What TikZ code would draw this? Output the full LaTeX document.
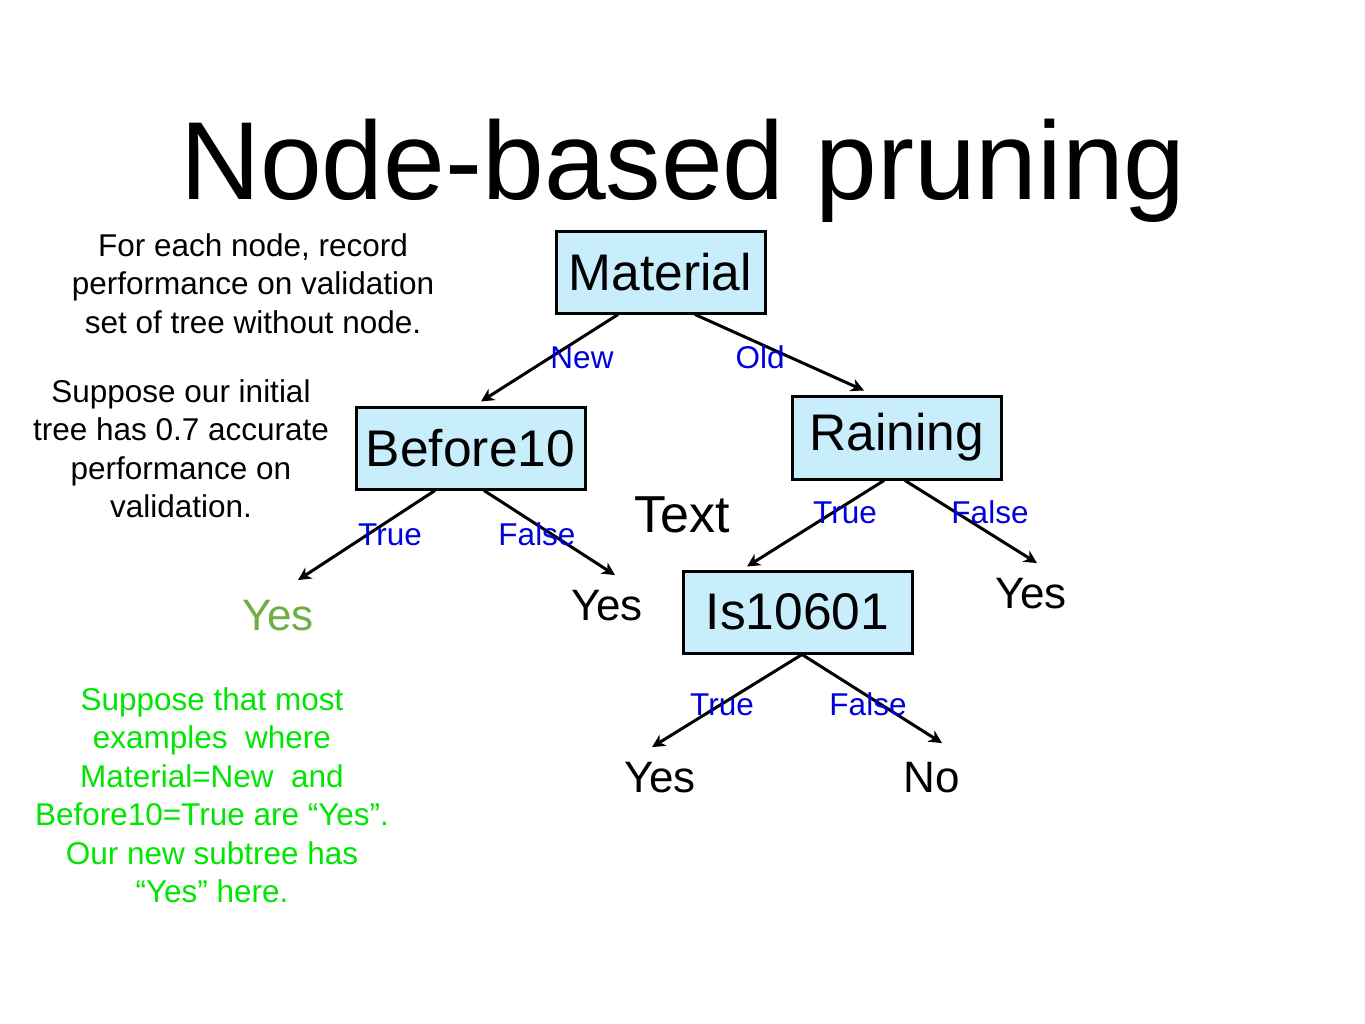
\documentclass[tikz,border=0pt]{standalone}
\usepackage{fontspec}
\setmainfont{Liberation Sans}
\usetikzlibrary{calc,arrows.meta}
\definecolor{boxfill}{RGB}{200,238,252}
\definecolor{lblblue}{RGB}{0,0,220}
\definecolor{leafgreen}{RGB}{112,173,71}
\definecolor{notegreen}{RGB}{0,230,0}
\tikzset{
  attr/.style={draw=black, fill=boxfill, line width=3pt, inner sep=0pt, font=\fontsize{51.5}{61}\selectfont},
  leaf/.style={anchor=base, inner sep=0pt, font=\fontsize{44}{53}\selectfont},
  edgelbl/.style={anchor=base, inner sep=0pt, text=lblblue, font=\fontsize{31.5}{38}\selectfont},
  note/.style={anchor=north, inner sep=0pt, align=center, font=\fontsize{31.5}{38.5}\selectfont},
  branch/.style={line width=3pt, -{Stealth[length=13pt,width=13pt,inset=4pt]}}
}
\begin{document}
\begin{tikzpicture}[x=1pt,y=-1pt]
\useasboundingbox[fill=white] (0,0) rectangle (1365,1024);
% title
\node[anchor=base, inner sep=0pt, font=\fontsize{111}{130}\selectfont] (title) at (683,200) {Node-based pruning};
% attribute boxes
\node[attr, minimum width=209pt, minimum height=81pt] (mat) at (660.5,272.5) {Material};
\node[attr, minimum width=229pt, minimum height=82pt] (b10) at (470.5,448) {Before10};
\node[attr, minimum width=209pt, minimum height=83pt] (rain) at (896.5,437.5) {Raining};
\node[attr, minimum width=229pt, minimum height=82pt] (is) at (797.5,612) {Is10601};
% leaves
\node[leaf, text=leafgreen] (yesg) at (278,630) {Yes};
\node[leaf] (yes1) at (607,620) {Yes};
\node[leaf] (yes2) at (1031,608) {Yes};
\node[leaf] (yes3) at (660,792) {Yes};
\node[leaf] (no) at (932,792) {No};
\node[anchor=base, inner sep=0pt, font=\fontsize{52}{62}\selectfont] (txt) at (682,532) {Text};
% branches
\draw[branch] ($(mat.south)+(-42.5,0)$) -- ($(b10.north)+(10.5,-4)$);
\draw[branch] ($(mat.south)+(34.5,0)$) -- ($(rain.north)+(-32.5,-4)$);
\draw[branch] ($(b10.south)+(-35.5,0)$) -- ($(yesg)+(20,-35)$);
\draw[branch] ($(b10.south)+(13.5,0)$) -- ($(yes1)+(8,-30)$);
\draw[branch] ($(rain.south)+(-12.5,0)$) -- ($(is.north)+(-50.5,-3)$);
\draw[branch] ($(rain.south)+(8.5,0)$) -- ($(yes2)+(6,-30)$);
\draw[branch] ($(is.south)+(4.5,0)$) -- ($(yes3)+(-8,-30)$);
\draw[branch] ($(is.south)+(4.5,0)$) -- ($(no)+(10,-34)$);
% edge labels
\node[edgelbl] (lnew) at (582,368) {New};
\node[edgelbl] (lold) at (760,368) {Old};
\node[edgelbl] (lbt) at (390,545) {True};
\node[edgelbl] (lbf) at (537,545) {False};
\node[edgelbl] (lrt) at (845,523) {True};
\node[edgelbl] (lrf) at (990,523) {False};
\node[edgelbl] (lit) at (722,715) {True};
\node[edgelbl] (lif) at (868,715) {False};
% notes
\node[note] (n1) at (253,233) {For each node, record\\performance on validation\\set of tree without node.};
\node[note] (n2) at (181,379) {Suppose our initial\\tree has 0.7 accurate\\performance on\\validation.};
\node[note, text=notegreen] (n3) at (212,687) {Suppose that most\\examples\ \ where\\Material=New\ \ and\\Before10=True are “Yes”.\\Our new subtree has\\“Yes” here.};
\end{tikzpicture}
\end{document}
